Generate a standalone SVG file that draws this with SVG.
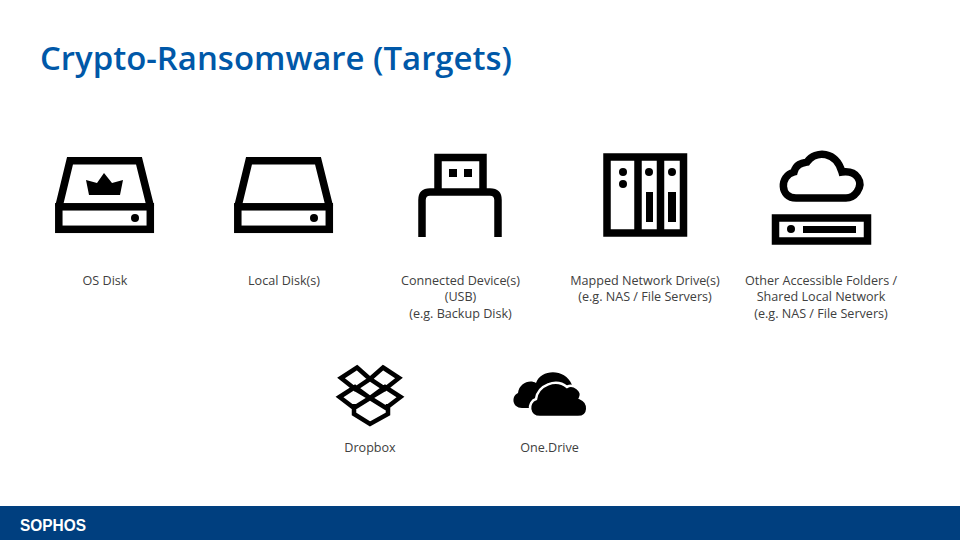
<svg xmlns="http://www.w3.org/2000/svg" width="960" height="540" viewBox="0 0 960 540">
<style>
.l{font-family:"Open Sans","Noto Sans","Liberation Sans",sans-serif;font-size:12.6px;font-weight:500;fill:#404040;text-anchor:middle}
.s{fill:none;stroke:#000;stroke-width:7.5}
.k{fill:#000}
</style>
<defs>
<g id="disk">
<path class="s" d="M58.8 207 L70 160.800 H139 L150.500 207"/>
<rect class="s" x="58.800" y="206.800" width="91.500" height="22.500"/>
<circle class="k" cx="135" cy="218" r="4"/>
</g>
</defs>
<rect width="960" height="540" fill="#fff"/>
<text x="40" y="70" font-family="'Open Sans','Noto Sans',sans-serif" font-size="32" font-weight="600" fill="#0058a8" textLength="472" lengthAdjust="spacingAndGlyphs">Crypto-Ransomware (Targets)</text>
<g id="os-disk">
<use href="#disk"/>
<path class="k" d="M86 180 L97 183 L104 173 L112 183 L123 180 L120 195 H89 Z"/>
<text class="l" x="105" y="285">OS Disk</text>
</g>
<g id="local-disk">
<use href="#disk" x="179"/>
<text class="l" x="284" y="285">Local Disk(s)</text>
</g>
<g id="usb">
<path class="s" d="M438 192 V157.500 H483 V192"/>
<path class="s" d="M422 237 V200 Q422 192 430 192 H490 Q498 192 498 200 V237"/>
<rect class="k" x="449" y="169" width="8" height="8"/>
<rect class="k" x="464" y="169" width="8" height="8"/>
<text class="l" x="460.500" y="285">Connected Device(s)</text>
<text class="l" x="460.500" y="301">(USB)</text>
<text class="l" x="460.500" y="318">(e.g. Backup Disk)</text>
</g>
<g id="network-drive">
<rect class="s" x="607" y="157" width="76.500" height="76"/>
<path class="s" d="M638 157 V233 M660.500 157 V233"/>
<circle class="k" cx="623" cy="172" r="4"/>
<circle class="k" cx="623" cy="184" r="4"/>
<circle class="k" cx="649" cy="172" r="4"/>
<circle class="k" cx="672" cy="172" r="4"/>
<rect class="k" x="646" y="192" width="7" height="30"/>
<rect class="k" x="668" y="192" width="8" height="30"/>
<text class="l" x="645" y="285">Mapped Network Drive(s)</text>
<text class="l" x="645" y="301">(e.g. NAS / File Servers)</text>
</g>
<g id="shared-folder">
<path class="s" d="M796 198 C780 198 779 176 794 172 C796 164 802 163 807 162 C816 150 836 151 842 172 C857 170 864 182 857 192 C854 196 851 198 846 198 Z"/>
<rect class="s" x="775.500" y="218" width="92" height="23"/>
<circle class="k" cx="791" cy="229" r="4"/>
<rect class="k" x="803" y="226" width="53" height="7"/>
<text class="l" x="821" y="285">Other Accessible Folders /</text>
<text class="l" x="821" y="301">Shared Local Network</text>
<text class="l" x="821" y="318">(e.g. NAS / File Servers)</text>
</g>
<g id="dropbox">
<path fill="none" stroke="#000" stroke-width="4.500" stroke-linejoin="miter" d="M357 367.500 L370 379 L355 389 L341 378 Z M383 367.500 L399 378 L385 389 L370 379 Z M355 389 L370 379 L385 389 L370 398 Z M355 387 L370 398 L354 408 L339.500 397 Z M385 387 L400.500 397 L386 408 L370 398 Z M354 404 V414 L370 424 L388 414 V404"/>
<text class="l" x="370" y="452">Dropbox</text>
</g>
<g id="onedrive">
<path class="k" d="M522 408 C512 408 511 396 518 393 C519 383 530 379 536 383 C541 369 565 368 572 385 L545 388 L532 408 Z"/>
<path class="k" stroke="#fff" stroke-width="2.500" d="M540 417 C528 417 527 402 536 399 C538 385 556 378 567 387 C573 383 584 391 580 398 C590 402 590 417 578 417 Z"/>
<text class="l" x="549.500" y="452">One.Drive</text>
</g>
<g id="footer">
<rect y="506" width="960" height="34" fill="#003f7f"/>
<text x="20" y="531" font-family="'Liberation Sans',sans-serif" font-size="16" font-weight="700" fill="#fff" textLength="66" lengthAdjust="spacingAndGlyphs">SOPHOS</text>
</g>
<g id="connectors"></g>
</svg>
